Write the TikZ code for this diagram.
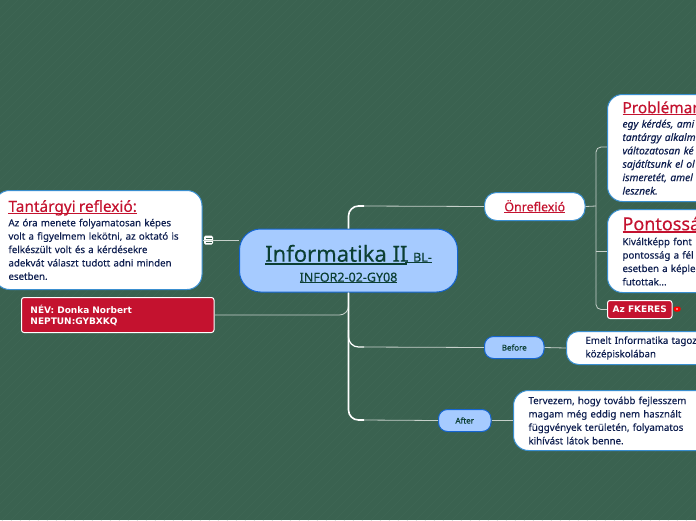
\documentclass[tikz,border=0pt]{standalone}
\usepackage{fontspec}
\setmainfont{Noto Sans}[FakeBold=0.3]
\newfontfamily\dejabold{DejaVu Sans}[BoldFont={DejaVu Sans Bold}]
\definecolor{bgc}{HTML}{3A6250}
\definecolor{stripec}{HTML}{3D6553}
\definecolor{bluefill}{HTML}{A6CBFF}
\definecolor{blueedge}{HTML}{1565D0}
\definecolor{cloudedge}{HTML}{3A8FD0}
\definecolor{crimson}{HTML}{C4122F}
\definecolor{navy}{HTML}{0F1F50}
\definecolor{deepgreen}{HTML}{0C3F33}
\definecolor{linec}{HTML}{C6D0CA}
\newcommand{\uln}[1]{\leavevmode\setbox0\hbox{#1}\rlap{\rule[-0.13em]{\wd0}{0.07em}}\box0 }
\newcommand{\ttl}[1]{{\fontsize{15.4}{19}\selectfont\color{crimson}\uln{#1}}}
\tikzset{
  x=1pt,y=-1pt,
  mainbox/.style={draw=blueedge,line width=1pt,fill=bluefill,rounded corners=21pt,text=deepgreen,align=center,inner sep=0pt},
  subbox/.style={draw=blueedge,line width=1pt,fill=bluefill,rounded corners=9pt,text=deepgreen,align=center,inner sep=0pt,font=\fontsize{8}{10}\selectfont},
  cloud/.style={draw=cloudedge,line width=1pt,fill=white,rounded corners=15pt,text=navy,align=left,inner sep=0pt,font=\fontsize{9.7}{13.4}\selectfont},
  redbox/.style={draw=white,line width=1pt,fill=crimson,rounded corners=2.5pt,text=white,align=left,inner sep=0pt,font=\dejabold\bfseries\fontsize{9}{11}\selectfont},
  thinlink/.style={draw=linec,line width=.8pt,rounded corners=9pt},
  trunk/.style={draw=white,line width=1.6pt,rounded corners=10pt},
}
\begin{document}
\begin{tikzpicture}
\useasboundingbox (0,0) rectangle (696,520);
\clip (0,0) rectangle (696,520);
\fill[bgc] (0,0) rectangle (696,520);
\foreach \k in {0,9,...,1220}{\draw[stripec,line width=1pt] (\k,0) -- (\k-520,520);}

% nodes
\node[mainbox,minimum width=218pt,minimum height=63pt] (main) at (348.5,260.5) {%
  \rule{0pt}{24pt}{\fontsize{22}{26}\selectfont\uln{Informatika II}}\hspace{-.2em}{\fontsize{12.5}{26}\selectfont\uln{. BL-}}\\[8pt]
  {\fontsize{12.5}{15}\selectfont\uln{INFOR2-02-GY08}}};
\node[cloud,minimum height=99pt,text width=207.5pt,anchor=north west] (tant) at (-6,190) {\hspace*{14pt}\ttl{Tantárgyi reflexió:}\\[1pt]
 \hspace*{14pt}Az óra menete folyamatosan képes\\
 \hspace*{14pt}volt a figyelmem lekötni, az oktató is\\
 \hspace*{14pt}felkészült volt és a kérdésekre\\
 \hspace*{14pt}adekvát választ tudott adni minden\\
 \hspace*{14pt}esetben.};
\node[redbox,minimum width=192.5pt,minimum height=35pt,anchor=north west,text width=192.5pt] (nev) at (21,297) {\hspace*{9pt}NÉV: Donka Norbert\\\hspace*{9pt}NEPTUN:GYBXKQ};
\node[fill=white,rounded corners=1.5pt,minimum width=9pt,minimum height=9pt,inner sep=0pt] (note) at (208.5,240) {};
\draw[bgc,line width=.7pt] (205.5,238) -- (211.5,238) (205.5,240) -- (211.5,240) (205.5,242) -- (211.5,242);

\node[cloud,minimum width=100.5pt,minimum height=28pt,rounded corners=12pt,align=center,anchor=north west] (onref) at (484,192) {{\fontsize{12.4}{14}\selectfont\color{crimson}\uln{Önreflexió}}};
\node[cloud,minimum height=107pt,text width=120pt,anchor=north west,font=\fontsize{10.2}{13.4}\selectfont] (prob) at (607,94) {\hspace*{15pt}\ttl{Problémar}\\[1pt]
 \itshape\hspace*{15pt}egy kérdés, ami\\
 \itshape\hspace*{15pt}tantárgy alkalm\\
 \itshape\hspace*{15pt}változatosan ké\\
 \itshape\hspace*{15pt}sajátítsunk el ol\\
 \itshape\hspace*{15pt}ismeretét, amel\\
 \itshape\hspace*{15pt}lesznek.};
\node[cloud,minimum height=83pt,text width=120pt,anchor=north west] (pont) at (607,209) {\hspace*{15pt}{\fontsize{18}{20}\selectfont\color{crimson}\uln{Pontosság}}\\[1.5pt]
 \hspace*{15pt}Kiváltképp font\\
 \hspace*{15pt}pontosság a fél\\
 \hspace*{15pt}esetben a képle\\
 \hspace*{15pt}futottak...};
\node[redbox,minimum width=64.5pt,minimum height=18pt,anchor=north west,align=center] (fker) at (607,300) {Az FKERES};
\node[fill=red,rounded corners=1.5pt,minimum width=7pt,minimum height=5pt,inner sep=0pt] (flag) at (677,309) {};
\fill[white] (flag.center) circle (.9pt);

\node[subbox,minimum width=59.5pt,minimum height=22pt,anchor=north west] (before) at (484,336) {Before};
\node[cloud,minimum height=33pt,text width=150pt,rounded corners=12pt,anchor=north west] (emelt) at (566,331) {\hspace*{19pt}Emelt Informatika tagoz\\\hspace*{19pt}középiskolában};
\node[subbox,minimum width=52.5pt,minimum height=22pt,anchor=north west] (after) at (438,409) {After};
\node[cloud,minimum height=60pt,text width=200pt,anchor=north west] (terv) at (513,390) {\hspace*{15pt}Tervezem, hogy tovább fejlesszem\\
 \hspace*{15pt}magam még eddig nem használt\\
 \hspace*{15pt}függvények területén, folyamatos\\
 \hspace*{15pt}kihívást látok benne.};

% connectors
\coordinate (rhub) at (596,206);
\coordinate (jtop) at (364,206);
\coordinate (jbef) at (364,347);
\coordinate (jaft) at (364,420);
\draw[thinlink] (nev.east) -- (348.5,315) -- (main.south);
\draw[trunk] (main.north) -- (main.north |- jtop) -- (jtop);
\draw[thinlink] (jtop) -- (onref.west);
\draw[trunk] (main.south) -- (main.south |- jaft) -- (jaft);
\draw[thinlink] (jaft) -- (after.west);
\draw[trunk,line width=1.2pt] (main.south |- 0,330) -- (main.south |- jbef) -- (jbef);
\draw[thinlink] (jbef) -- (before.west);
\draw[thinlink] (note.east) -- (note.east -| tant.east);
\draw[thinlink] (note.west) -- (note.west -| main.west);
\draw[thinlink] (onref.east) -- (rhub);
\draw[thinlink,rounded corners=5pt] (prob.west |- 0,147) -- (rhub |- 0,147) -- (rhub) -- (rhub |- fker.west) -- (fker.west);
\draw[thinlink] (rhub |- pont.west) -- (pont.west);
\draw[thinlink] (before.east) -- (emelt.west);
\draw[thinlink] (after.east) -- (terv.west);
\end{tikzpicture}
\end{document}
